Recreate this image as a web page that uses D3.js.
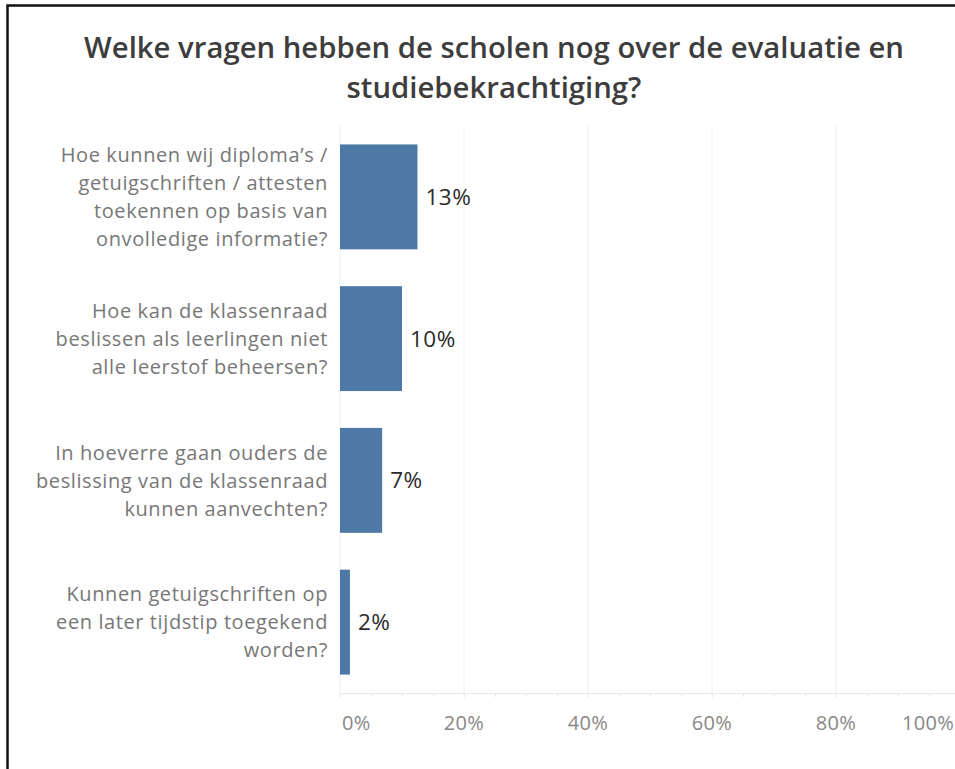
<!DOCTYPE html>
<html>
<head>
<meta charset="utf-8">
<script src="https://cdn.jsdelivr.net/npm/d3@7"></script>
<style>
  body { margin: 0; background: #fff; }
  svg { display: block; font-family: "Open Sans", sans-serif; }
</style>
</head>
<body>
<script>
var titleLines = ['Welke vragen hebben de scholen nog over de evaluatie en',
                  'studiebekrachtiging?'];

var questions = [
  ['Hoe kunnen wij diploma\u2019s /', 'getuigschriften / attesten', 'toekennen op basis van', 'onvolledige informatie?'],
  ['Hoe kan de klassenraad', 'beslissen als leerlingen niet', 'alle leerstof beheersen?'],
  ['In hoeverre gaan ouders de', 'beslissing van de klassenraad', 'kunnen aanvechten?'],
  ['Kunnen getuigschriften op', 'een later tijdstip toegekend', 'worden?']
];
var shares = [0.125, 0.10, 0.068, 0.016];
var tickValues = [0, 0.2, 0.4, 0.6, 0.8, 1.0];

var width = 955;
var height = 769;
var margin = {top: 126, left: 340, bottom: 76};

var svg = d3.select('body').append('svg')
  .attr('width', width)
  .attr('height', height);

// frame (top and left edges only, the rest is cropped off)
svg.append('path')
  .attr('d', 'M7.5,' + height + 'V5.5H' + width)
  .attr('fill', 'none')
  .attr('stroke', '#111')
  .attr('stroke-width', 2.5);

svg.append('g').selectAll('text')
  .data(titleLines)
  .enter().append('text')
  .attr('x', 494)
  .attr('y', function(d, i) { return 58 + i * 40; })
  .attr('text-anchor', 'middle')
  .attr('font-size', 29.3)
  .attr('font-weight', 600)
  .attr('fill', '#3d3d3d')
  .text(function(d) { return d; });

var x = d3.scaleLinear()
  .domain([0, 1])
  .range([margin.left, margin.left + 620]);

var y = d3.scaleBand()
  .domain(d3.range(questions.length))
  .range([margin.top, height - margin.bottom])
  .paddingInner(0.26)
  .paddingOuter(0.13);

var axisY = height - margin.bottom;

// gridlines
svg.append('g').selectAll('line')
  .data(tickValues)
  .enter().append('line')
  .attr('x1', function(d) { return x(d); })
  .attr('x2', function(d) { return x(d); })
  .attr('y1', margin.top)
  .attr('y2', axisY + 6)
  .attr('stroke', '#efefef')
  .attr('stroke-width', 1);

// axis with minor ticks
var axis = svg.append('g')
  .attr('transform', 'translate(0,' + axisY + ')')
  .call(d3.axisBottom(x).tickValues(d3.range(0, 1.0001, 0.05)).tickSize(4).tickFormat(''));
axis.select('.domain').attr('stroke', '#e8e8e8');
axis.selectAll('.tick line').attr('stroke', '#e8e8e8');

svg.append('g').selectAll('text')
  .data(tickValues)
  .enter().append('text')
  .attr('x', function(d, i) {
    if (i === 0) return x(d) + 2;
    if (d === 1) return width - 1;
    return x(d);
  })
  .attr('y', axisY + 37)
  .attr('text-anchor', function(d, i) { return i === 0 ? 'start' : (d === 1 ? 'end' : 'middle'); })
  .attr('font-size', 20)
  .attr('letter-spacing', 0.3)
  .attr('fill', '#888')
  .text(d3.format('.0%'));

// bars
svg.append('g').selectAll('rect')
  .data(shares)
  .enter().append('rect')
  .attr('x', x(0))
  .attr('y', function(d, i) { return y(i); })
  .attr('width', function(d) { return x(d) - x(0); })
  .attr('height', y.bandwidth())
  .attr('fill', '#4e79a7');

svg.append('g').selectAll('text')
  .data(shares)
  .enter().append('text')
  .attr('x', function(d) { return x(d) + 8; })
  .attr('y', function(d, i) { return y(i) + y.bandwidth() / 2; })
  .attr('dy', '0.36em')
  .attr('font-size', 22.5)
  .attr('letter-spacing', 0.5)
  .attr('fill', '#2b2b2b')
  .text(function(d) { return Math.round(d * 100) + '%'; });

// category labels
var lineH = 28;
var labels = svg.append('g').selectAll('text')
  .data(questions)
  .enter().append('text')
  .attr('text-anchor', 'end')
  .attr('font-size', 20)
  .attr('letter-spacing', 0.6)
  .attr('fill', '#777');

labels.each(function(lines, i) {
  var cy = y(i) + y.bandwidth() / 2;
  var y0 = cy - (lines.length - 1) * lineH / 2;
  d3.select(this).selectAll('tspan')
    .data(lines)
    .enter().append('tspan')
    .attr('x', 328)
    .attr('y', function(d, j) { return y0 + j * lineH; })
    .attr('dy', '0.36em')
    .text(function(d) { return d; });
});
</script>
</body>
</html>
